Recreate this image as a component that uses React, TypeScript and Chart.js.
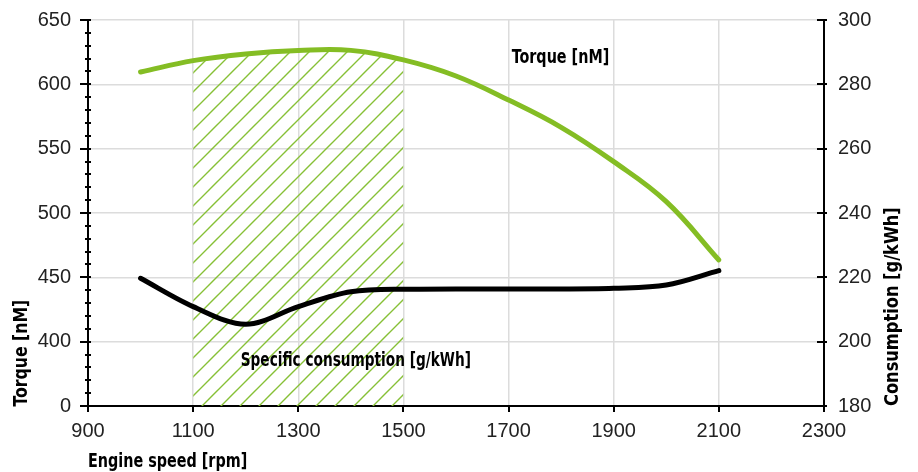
import React, { useEffect, useRef } from 'react';
import { Chart, registerables } from 'chart.js';

Chart.register(...registerables);

// ---- data ----
const rpm = [1000, 1100, 1200, 1300, 1400, 1500, 1600, 1700, 1800, 1900, 2000, 2100];
const torque = [609.6, 618.4, 623.6, 626.3, 626.4, 619.0, 606.5, 587.8, 566.6, 539.9, 508.8, 463.5];
const consumption = [219.7, 210.9, 205.4, 210.9, 215.5, 216.3, 216.4, 216.4, 216.4, 216.6, 217.6, 222.1];

const hatchFrom = 1100;
const hatchTo = 1500;

const xTickValues = [900, 1100, 1300, 1500, 1700, 1900, 2100, 2300];
// left axis is broken: the bottom tick (350 on the linear scale) is labelled "0"
const leftTickValues = [350, 400, 450, 500, 550, 600, 650];
const leftTickLabels = ['0', '400', '450', '500', '550', '600', '650'];
const leftMinorStep = 10;
const rightTickValues = [180, 200, 220, 240, 260, 280, 300];

const xTitle = 'Engine speed [rpm]';
const leftTitle = 'Torque [nM]';
const rightTitle = 'Consumption [g/kWh]';
const torqueLabel = { text: 'Torque [nM]', x: 1706, y: 616.2 };
const consumptionLabel = { text: 'Specific consumption [g/kWh]', x: 1190.5, y: 192.4 };

const GREEN = '#84bd24';
const HATCH = '#86c036';
const GRID = '#dcdcdc';
const TICK_FONT = '"Liberation Sans", Arial, sans-serif';
const BOLD_FONT = 'bold 19px "DejaVu Sans Condensed", "DejaVu Sans", sans-serif';

function makeHatch(): CanvasPattern | string {
  const s = 19;
  const c = document.createElement('canvas');
  c.width = s;
  c.height = s;
  const g = c.getContext('2d');
  if (!g) return HATCH;
  g.strokeStyle = HATCH;
  g.lineWidth = 1.4;
  g.beginPath();
  g.moveTo(-2, s + 2);
  g.lineTo(s + 2, -2);
  g.moveTo(-2, 2);
  g.lineTo(2, -2);
  g.moveTo(s - 2, s + 2);
  g.lineTo(s + 2, s - 2);
  g.stroke();
  const p = g.createPattern(c, 'repeat');
  return p || HATCH;
}

function condensedText(
  ctx: CanvasRenderingContext2D,
  text: string,
  x: number,
  y: number,
  squeeze: number,
  vertical = false,
) {
  ctx.save();
  ctx.translate(x, y);
  if (vertical) ctx.rotate(-Math.PI / 2);
  ctx.scale(squeeze, 1);
  ctx.fillText(text, 0, 0);
  ctx.restore();
}

const decorPlugin = {
  id: 'decor',
  afterDraw(chart: any) {
    const ctx: CanvasRenderingContext2D = chart.ctx;
    const { left, right, bottom } = chart.chartArea;
    const y = chart.scales.y;
    const y1 = chart.scales.y1;
    const x = chart.scales.x;
    ctx.save();
    ctx.strokeStyle = '#000';
    ctx.lineWidth = 2;
    ctx.beginPath();
    // left axis: minor + major ticks
    for (let v = leftTickValues[0]; v <= leftTickValues[leftTickValues.length - 1]; v += leftMinorStep) {
      const py = Math.round(y.getPixelForValue(v));
      const major = leftTickValues.includes(v);
      ctx.moveTo(left - (major ? 8 : 3), py);
      ctx.lineTo(left + 3, py);
    }
    // right axis ticks
    rightTickValues.forEach((v) => {
      const py = Math.round(y1.getPixelForValue(v));
      ctx.moveTo(right - 7, py);
      ctx.lineTo(right + 3, py);
    });
    // x ticks
    xTickValues.forEach((v) => {
      const px = Math.round(x.getPixelForValue(v));
      ctx.moveTo(px, bottom);
      ctx.lineTo(px, bottom + 6);
    });
    ctx.stroke();

    ctx.fillStyle = '#000';
    ctx.font = BOLD_FONT;
    ctx.textBaseline = 'alphabetic';
    ctx.textAlign = 'left';
    condensedText(ctx, xTitle, left, bottom + 61, 0.84);
    condensedText(ctx, leftTitle, 27, bottom + 0.5, 0.92, true);
    condensedText(ctx, rightTitle, right + 74, bottom, 0.95, true);
    condensedText(ctx, torqueLabel.text, x.getPixelForValue(torqueLabel.x), y.getPixelForValue(torqueLabel.y), 0.84);
    condensedText(
      ctx,
      consumptionLabel.text,
      x.getPixelForValue(consumptionLabel.x),
      y1.getPixelForValue(consumptionLabel.y),
      0.8,
    );
    ctx.restore();
  },
};

function fixVertical(width: number) {
  return (s: any) => {
    s.width = width;
    s.paddingTop = 0;
    s.paddingBottom = 0;
  };
}

export default function App() {
  const ref = useRef<HTMLCanvasElement>(null);

  useEffect(() => {
    if (!ref.current) return;
    const torquePts = rpm.map((r, i) => ({ x: r, y: torque[i] }));
    const consPts = rpm.map((r, i) => ({ x: r, y: consumption[i] }));
    const hatchPts = torquePts.filter((p) => p.x >= hatchFrom && p.x <= hatchTo);

    const chart = new Chart(ref.current, {
      type: 'line',
      data: {
        datasets: [
          {
            label: 'Torque',
            data: torquePts,
            yAxisID: 'y',
            borderColor: GREEN,
            borderWidth: 5,
            pointRadius: 0,
            tension: 0.4,
            borderCapStyle: 'round',
            fill: false,
          },
          {
            label: 'Consumption',
            data: consPts,
            yAxisID: 'y1',
            borderColor: '#000',
            borderWidth: 5,
            pointRadius: 0,
            cubicInterpolationMode: 'monotone',
            borderCapStyle: 'round',
            fill: false,
          },
          {
            label: 'Hatch',
            data: hatchPts,
            yAxisID: 'y',
            borderColor: 'rgba(0,0,0,0)',
            borderWidth: 0,
            pointRadius: 0,
            tension: 0.4,
            backgroundColor: makeHatch() as any,
            fill: 'start',
          },
        ],
      },
      options: {
        responsive: true,
        maintainAspectRatio: false,
        animation: false,
        layout: { padding: { top: 20, left: 0, right: 0, bottom: 0 } },
        plugins: {
          legend: { display: false },
          tooltip: { enabled: false },
        },
        scales: {
          x: {
            type: 'linear',
            min: 900,
            max: 2300,
            afterBuildTicks: (s: any) => {
              s.ticks = xTickValues.map((v) => ({ value: v }));
            },
            afterFit: (s: any) => {
              s.height = 66;
              s.paddingLeft = 0;
              s.paddingRight = 0;
            },
            ticks: {
              autoSkip: false,
              maxRotation: 0,
              padding: 13,
              color: '#222',
              font: { family: TICK_FONT, size: 20 },
              callback: (v: any) => String(v),
            },
            grid: { color: GRID, lineWidth: 1.5, drawTicks: false },
            border: { color: '#000', width: 2 },
          },
          y: {
            type: 'linear',
            position: 'left',
            min: 350,
            max: 650,
            afterBuildTicks: (s: any) => {
              s.ticks = leftTickValues.map((v) => ({ value: v }));
            },
            afterFit: fixVertical(88),
            ticks: {
              padding: 17,
              color: '#222',
              font: { family: TICK_FONT, size: 20 },
              callback: (v: any) => {
                const i = leftTickValues.indexOf(Number(v));
                return i >= 0 ? leftTickLabels[i] : '';
              },
            },
            grid: { color: GRID, lineWidth: 1.5, drawTicks: false },
            border: { color: '#000', width: 2 },
          },
          y1: {
            type: 'linear',
            position: 'right',
            min: 180,
            max: 300,
            afterBuildTicks: (s: any) => {
              s.ticks = rightTickValues.map((v) => ({ value: v }));
            },
            afterFit: fixVertical(94),
            ticks: {
              padding: 14,
              color: '#222',
              font: { family: TICK_FONT, size: 20 },
              callback: (v: any) => String(v),
            },
            grid: { drawOnChartArea: false, drawTicks: false },
            border: { color: '#000', width: 2 },
          },
        },
      },
      plugins: [decorPlugin],
    });
    return () => chart.destroy();
  }, []);

  return (
    <div style={{ position: 'fixed', left: 0, top: 0, width: 918, height: 472, background: '#fff' }}>
      <canvas ref={ref} />
    </div>
  );
}
